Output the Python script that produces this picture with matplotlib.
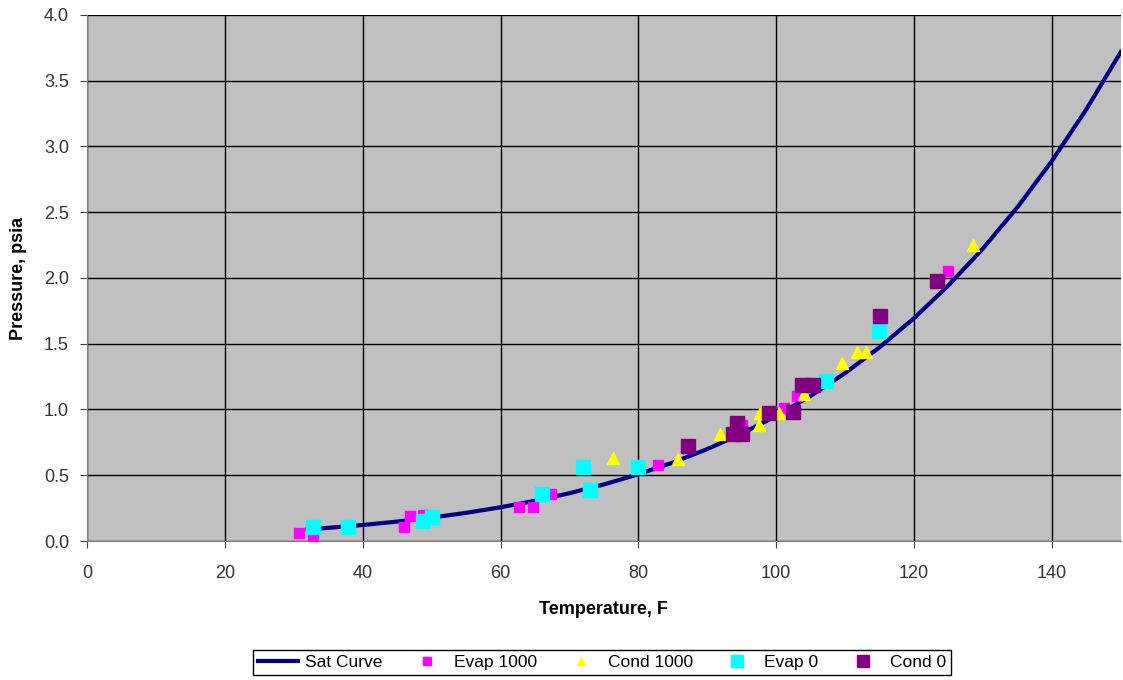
import numpy as np
import matplotlib.pyplot as plt

plt.rcParams['font.family'] = ['Liberation Sans', 'DejaVu Sans']

# saturation curve (temperature F, pressure psia)
sat_t = [32, 35, 40, 45, 50, 55, 60, 65, 70, 75, 80, 85, 90, 95, 100,
         105, 110, 115, 120, 125, 130, 135, 140, 145, 150]
sat_p = [0.0887, 0.1000, 0.1217, 0.1476, 0.1781, 0.2141, 0.2564, 0.3058,
         0.3633, 0.4302, 0.5075, 0.5966, 0.6990, 0.8164, 0.9505, 1.1032,
         1.2766, 1.4730, 1.6945, 1.9438, 2.2237, 2.5372, 2.8892, 3.2817, 3.7184]

evap1000_t = [30.7, 32.8, 46.0, 46.8, 48.8, 62.7, 64.7, 67.3, 82.8, 95.1, 101.1, 103.0, 124.9]
evap1000_p = [0.06, 0.04, 0.11, 0.19, 0.20, 0.26, 0.26, 0.36, 0.58, 0.88, 1.01, 1.10, 2.05]

cond1000_t = [76.3, 85.7, 91.8, 97.5, 97.6, 100.4, 104.1, 109.6, 111.7, 113.0, 128.5]
cond1000_p = [0.63, 0.62, 0.81, 0.88, 0.97, 0.97, 1.12, 1.35, 1.44, 1.44, 2.25]

evap0_t = [32.8, 37.9, 48.7, 50.0, 66.0, 71.9, 73.0, 79.9, 107.2, 114.9]
evap0_p = [0.11, 0.11, 0.15, 0.18, 0.36, 0.56, 0.39, 0.56, 1.22, 1.60]

cond0_t = [87.2, 94.3, 93.7, 95.0, 98.9, 102.4, 103.7, 105.3, 115.0, 123.4]
cond0_p = [0.72, 0.90, 0.81, 0.81, 0.97, 0.98, 1.19, 1.19, 1.71, 1.98]

fig = plt.figure(figsize=(11.23, 6.80), dpi=100)
ax = fig.add_axes([0.0775, 0.2044, 0.9205, 0.7736])
ax.set_facecolor('#c0c0c0')

ax.plot(sat_t, sat_p, color='#000080', lw=3.0, label='Sat Curve', zorder=3)
ax.plot(evap1000_t, evap1000_p, 's', color='#ff00ff', ms=7, ls='none', label='Evap 1000', zorder=4)
ax.plot(cond1000_t, cond1000_p, '^', color='#ffff00', ms=8, ls='none', label='Cond 1000', zorder=4)
ax.plot(evap0_t, evap0_p, 's', color='#00ffff', ms=10, ls='none', label='Evap 0', zorder=4)
ax.plot(cond0_t, cond0_p, 's', color='#800080', ms=10, ls='none', label='Cond 0', zorder=4)

ax.set_xlim(0, 150)
ax.set_ylim(0, 4.0)
ax.set_xticks(np.arange(0, 141, 20))
ax.set_yticks(np.arange(0, 4.01, 0.5))
ax.set_yticklabels(['%.1f' % v for v in np.arange(0, 4.01, 0.5)])
ax.grid(True, color='black', lw=1.0)
ax.set_axisbelow(True)
for s in ['top', 'right']:
    ax.spines[s].set_visible(False)
for s in ['left', 'bottom']:
    ax.spines[s].set_color('#808080')
ax.tick_params(direction='out', length=5, color='#404040', labelsize=13, labelcolor='#333333')
ax.tick_params(axis='x', pad=12)
ax.tick_params(axis='y', pad=8)

ax.set_xlabel('Temperature, F', fontweight='bold', fontsize=13, labelpad=14)
ax.set_ylabel('Pressure, psia', fontweight='bold', fontsize=13, labelpad=12)

leg = fig.legend(loc='center', bbox_to_anchor=(0.536, 0.026), ncol=5, fontsize=12.5,
                 frameon=True, fancybox=False, edgecolor='black', framealpha=1,
                 handlelength=2.3, handletextpad=0.4, columnspacing=1.4,
                 borderpad=0.3, markerscale=0.8)
leg.get_frame().set_linewidth(1.0)

fig.savefig('out.png', dpi=100)
